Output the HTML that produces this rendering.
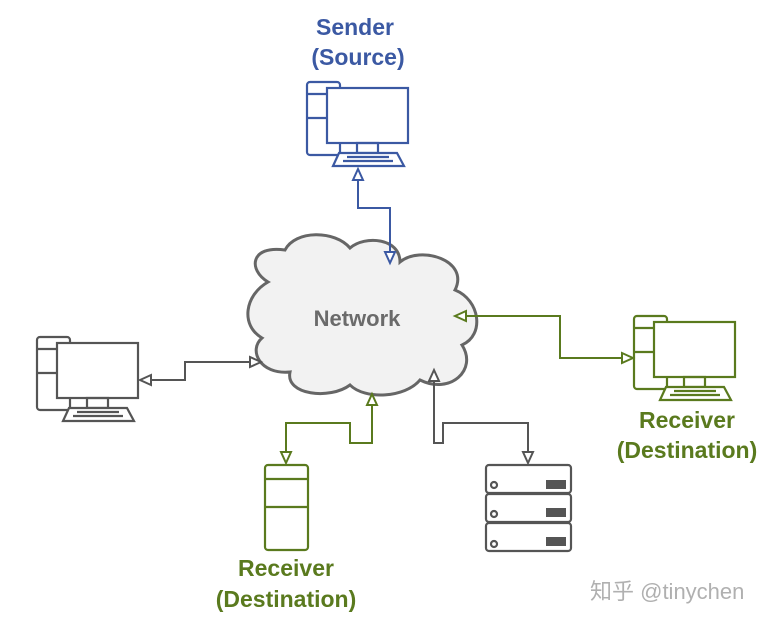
<!DOCTYPE html>
<html><head><style>
html,body{margin:0;padding:0;background:#fff;}
svg{display:block;}
text{font-family:"Liberation Sans","Noto Sans CJK SC",sans-serif;font-weight:bold;}
</style></head><body>
<svg width="775" height="623" viewBox="0 0 775 623" xmlns="http://www.w3.org/2000/svg">
<defs>
<g id="pc" fill="none" stroke-width="2.2">
  <rect x="0" y="0" width="33" height="73" rx="3" fill="#fff"/>
  <line x1="0" y1="12" x2="20" y2="12"/>
  <line x1="0" y1="36" x2="20" y2="36"/>
  <rect x="20" y="6" width="81" height="55" fill="#fff"/>
  <rect x="50" y="61" width="21" height="10"/>
  <polygon points="32,71 90,71 97,84 26,84" fill="#fff"/>
  <line x1="40" y1="75" x2="82" y2="75"/>
  <line x1="36" y1="79" x2="86" y2="79"/>
</g>
</defs>

<!-- cloud -->
<path d="M268,282 C248,270 250,245 285,250 C295,230 335,230 350,248 C365,235 400,238 400,262 C420,245 470,260 455,290 C480,300 485,335 462,345 C478,370 450,395 420,380 C405,398 365,400 350,385 C330,400 285,395 290,372 C260,375 248,350 262,338 C240,325 245,295 268,282 Z" fill="#f2f2f2" stroke="#666" stroke-width="3"/>
<text x="357" y="326" font-size="22" fill="#6b6b6b" text-anchor="middle">Network</text>

<!-- sender -->
<text x="355" y="35" font-size="23" fill="#3b59a3" text-anchor="middle">Sender</text>
<text x="358" y="65" font-size="23" fill="#3b59a3" text-anchor="middle">(Source)</text>
<use href="#pc" x="307" y="82" stroke="#3b59a3"/>
<g stroke="#3b59a3" stroke-width="2" fill="#fff">
  <polyline points="358,180 358,208 390,208 390,252" fill="none"/>
  <polygon points="358,169 353,180 363,180"/>
  <polygon points="390,263 385,252 395,252"/>
</g>

<!-- left pc -->
<use href="#pc" x="37" y="337" stroke="#555"/>
<g stroke="#555" stroke-width="2" fill="#fff">
  <polyline points="151,380 185,380 185,362 250,362" fill="none"/>
  <polygon points="140,380 151,375 151,385"/>
  <polygon points="261,362 250,357 250,367"/>
</g>

<!-- right pc -->
<use href="#pc" x="634" y="316" stroke="#5a7a1e"/>
<g stroke="#5a7a1e" stroke-width="2" fill="#fff">
  <polyline points="466,316 560,316 560,358 622,358" fill="none"/>
  <polygon points="455,316 466,311 466,321"/>
  <polygon points="633,358 622,353 622,363"/>
</g>
<text x="687" y="428" font-size="23" fill="#5a7a1e" text-anchor="middle">Receiver</text>
<text x="687" y="458" font-size="23" fill="#5a7a1e" text-anchor="middle">(Destination)</text>

<!-- bottom tower -->
<g stroke="#5a7a1e" stroke-width="2.2" fill="none">
  <rect x="265" y="465" width="43" height="85" rx="3"/>
  <line x1="265" y1="479" x2="308" y2="479"/>
  <line x1="265" y1="507" x2="308" y2="507"/>
</g>
<g stroke="#5a7a1e" stroke-width="2" fill="#fff">
  <polyline points="372,405 372,443 350,443 350,423 286,423 286,452" fill="none"/>
  <polygon points="372,394 367,405 377,405"/>
  <polygon points="286,463 281,452 291,452"/>
</g>
<text x="286" y="576" font-size="23" fill="#5a7a1e" text-anchor="middle">Receiver</text>
<text x="286" y="607" font-size="23" fill="#5a7a1e" text-anchor="middle">(Destination)</text>

<!-- server -->
<g stroke="#555" stroke-width="2.2" fill="#fff">
  <rect x="486" y="465" width="85" height="28" rx="3"/>
  <rect x="486" y="494" width="85" height="28" rx="3"/>
  <rect x="486" y="523" width="85" height="28" rx="3"/>
  <circle cx="494" cy="485" r="3"/>
  <circle cx="494" cy="514" r="3"/>
  <circle cx="494" cy="544" r="3"/>
</g>
<g fill="#555">
  <rect x="546" y="480" width="20" height="9"/>
  <rect x="546" y="508" width="20" height="9"/>
  <rect x="546" y="537" width="20" height="9"/>
</g>
<g stroke="#555" stroke-width="2" fill="#fff">
  <polyline points="434,381 434,443 443,443 443,423 528,423 528,452" fill="none"/>
  <polygon points="434,370 429,381 439,381"/>
  <polygon points="528,463 523,452 533,452"/>
</g>

<text x="590" y="599" font-size="22" fill="#b0b0b0" style="font-weight:normal">知乎 @tinychen</text>
</svg>
</body></html>
